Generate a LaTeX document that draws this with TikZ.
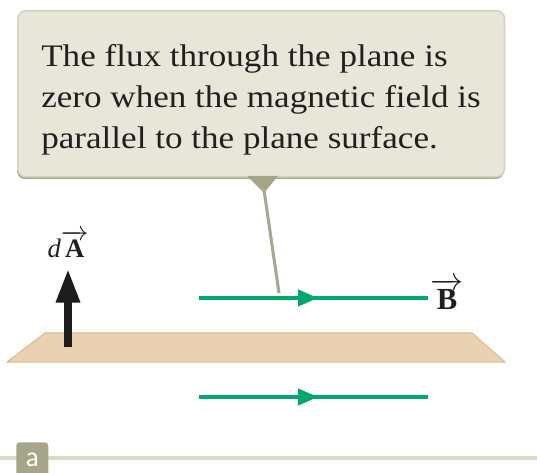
\documentclass[tikz,border=0pt]{standalone}
\usepackage{fontspec}
\newfontfamily\notefont[FakeStretch=1.12]{Liberation Serif}
\newfontfamily\labelfont{Liberation Serif}
\usetikzlibrary{arrows.meta,decorations.markings}
\definecolor{boxfill}{HTML}{E7E6D9}
\definecolor{boxedge}{HTML}{D4D2BE}
\definecolor{olive}{HTML}{A7A587}
\definecolor{pointer}{HTML}{A9A78D}
\definecolor{fieldgreen}{HTML}{00A86B}
\definecolor{planefill}{HTML}{E9D1B1}
\definecolor{planeedge}{HTML}{DCBC95}
\definecolor{rulegray}{HTML}{DBDAC6}
\definecolor{inkblack}{HTML}{1C1C1C}
\definecolor{textink}{HTML}{231F20}
\begin{document}
\begin{tikzpicture}[x=0.75pt,y=-0.75pt,
  fieldline/.style={draw=fieldgreen,line width=3pt,
    postaction={decorate},
    decoration={markings,mark=at position 0.52 with {\arrow{Triangle[length=15pt,width=12pt]}}}},
  notebox/.style={draw=boxedge,fill=boxfill,line width=1.2pt,rounded corners=6pt,
    minimum width=365pt,minimum height=124.5pt,anchor=north west,inner sep=0pt},
  notetext/.style={anchor=north west,inner sep=0pt,align=left,text=textink,
    font=\notefont\fontsize{23.5}{31}\selectfont},
  veclabel/.style={inner sep=0pt,text=textink}]
\useasboundingbox (0,0) rectangle (537,473);
% callout
\fill[olive,rounded corners=6pt] (17,14) rectangle (504,179);
\node[notebox] (note) at (17,10) {};
\node[notetext] (notetxt) at (41,44) {The flux through the plane is\\zero when the magnetic field is\\parallel to the plane surface.};
\fill[olive] (247,176) -- (278,176) -- (264,193) -- cycle;
\coordinate (tipA) at (264,190);
\coordinate (tipB) at (279,293);
\draw[pointer,line width=2.3pt] (tipA) -- (tipB);
% plane
\filldraw[fill=planefill,draw=planeedge,line width=0.8pt] (45,333) -- (472,333) -- (505,362) -- (7,362) -- cycle;
% area vector
\coordinate (dAbase) at (68,347);
\coordinate (dAtip) at (68,268);
\draw[inkblack,line width=6.5pt,-{Triangle[length=26pt,width=16.5pt]}] (dAbase) -- (dAtip);
\node[veclabel,font=\labelfont\fontsize{20}{22}\selectfont] (dA) at (68,244) {\itshape d\upshape$\overrightarrow{\mbox{\bfseries A}}$};
% field lines
\coordinate (f1a) at (199,298);
\coordinate (f1b) at (428,298);
\coordinate (f2a) at (199,397);
\coordinate (f2b) at (428,397);
\path[fieldline] (f1a) -- (f1b);
\path[fieldline] (f2a) -- (f2b);
\node[veclabel,font=\labelfont\fontsize{23}{24}\selectfont] (B) at (447,294) {$\overrightarrow{\mbox{\bfseries B}}$};
% bottom rule and label
\coordinate (ruleL) at (0,458);
\coordinate (ruleR) at (537,458);
\draw[rulegray,line width=3pt] (ruleL) -- (ruleR);
\node[fill=olive,rounded corners=2.5pt,minimum width=24pt,minimum height=26pt,anchor=north west,inner sep=0pt,text=white,font=\sffamily\fontsize{23}{23}\selectfont] (lbl) at (16,442) {a};
\end{tikzpicture}
\end{document}
